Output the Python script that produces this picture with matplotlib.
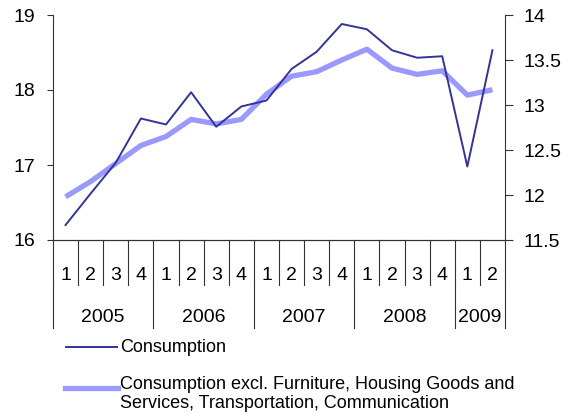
import numpy as np
import matplotlib
matplotlib.use("Agg")
import matplotlib.pyplot as plt
from matplotlib.lines import Line2D

plt.rcParams['font.family'] = ['Liberation Sans', 'DejaVu Sans']

# data
quarters = ["1", "2", "3", "4", "1", "2", "3", "4", "1", "2", "3", "4",
            "1", "2", "3", "4", "1", "2"]
years = ["2005", "2006", "2007", "2008", "2009"]
year_len = [4, 4, 4, 4, 2]
consumption = [16.20, 16.62, 17.03, 17.62, 17.54, 17.97, 17.51, 17.78, 17.86,
               18.28, 18.51, 18.88, 18.81, 18.53, 18.43, 18.45, 16.98, 18.53]
cons_excl = [11.98, 12.15, 12.35, 12.55, 12.65, 12.84, 12.79, 12.84, 13.12,
             13.32, 13.37, 13.50, 13.62, 13.41, 13.34, 13.38, 13.11, 13.17]
left_ticks = [16, 17, 18, 19]
right_ticks = [11.5, 12, 12.5, 13, 13.5, 14]
lbl1 = "Consumption"
lbl2 = "Consumption excl. Furniture, Housing Goods and\nServices, Transportation, Communication"

dark = "#333399"
light = "#9999ff"

W, H = 573, 418
fig = plt.figure(figsize=(W / 100, H / 100), dpi=100)
ax = fig.add_axes([53 / W, 1 - 240 / H, 452 / W, 225 / H])
ax2 = ax.twinx()

x = np.arange(len(quarters)) + 0.5
ax.plot(x, consumption, color=dark, lw=1.4, zorder=3)
ax2.plot(x, cons_excl, color=light, lw=3.8, solid_capstyle='butt', zorder=2)
ax.set_zorder(ax2.get_zorder() + 1)
ax.patch.set_visible(False)

ax.set_xlim(0, len(quarters))
ax.set_ylim(16, 19)
ax2.set_ylim(11.5, 14)
ax.set_yticks(left_ticks)
ax2.set_yticks(right_ticks)
ax2.set_yticklabels([f"{t:g}" for t in right_ticks])
ax.set_xticks([])

for a in (ax, ax2):
    a.spines['top'].set_visible(False)
    for s in a.spines.values():
        s.set_color("#333333")
        s.set_linewidth(0.8)
ax.tick_params(axis='y', direction='out', length=4, width=0.8,
               colors="#333333", labelsize=14, labelcolor='black', pad=9)
ax2.tick_params(axis='y', direction='out', length=6, width=0.8,
                colors="#333333", labelsize=14, labelcolor='black', pad=7)
ax2.spines['left'].set_visible(False)
ax.spines['right'].set_visible(False)

# category axis: quarters and years
tr = ax.get_xaxis_transform()
for i in range(len(quarters) + 1):
    ax.plot([i, i], [0, -0.2], transform=tr, color="#333333", lw=0.8, clip_on=False)
for i, q in enumerate(quarters):
    ax.text(i + 0.5, -0.156, q, transform=tr, ha='center', va='center', fontsize=14)
edges = np.concatenate([[0], np.cumsum(year_len)])
for e in edges:
    ax.plot([e, e], [-0.2, -0.391], transform=tr, color="#333333", lw=0.8, clip_on=False)
for y, a0, a1 in zip(years, edges[:-1], edges[1:]):
    ax.text((a0 + a1) / 2, -0.345, y, transform=tr, ha='center', va='center', fontsize=14)

# legend
fig.add_artist(Line2D([66 / W, 117 / W], [1 - 347 / H] * 2, color=dark, lw=1.4))
fig.text(120 / W, 1 - 347 / H, lbl1, ha='left', va='center', fontsize=13)
fig.add_artist(Line2D([65 / W, 118 / W], [1 - 388 / H] * 2, color=light, lw=3.8))
fig.text(120 / W, 1 - 394 / H, lbl2, ha='left', va='center', fontsize=13,
         linespacing=1.2)

fig.savefig("out.png", dpi=100)
